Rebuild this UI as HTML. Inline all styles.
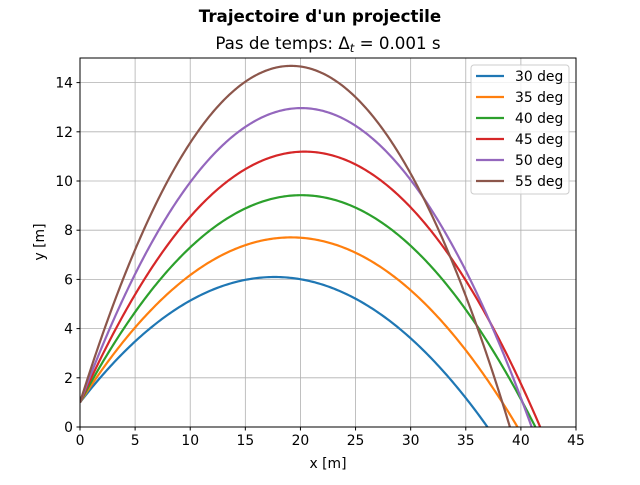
<!DOCTYPE html>
<html><head><meta charset="utf-8"><style>
body{margin:0;background:#fff;}
svg{font-family:"DejaVu Sans","Liberation Sans",sans-serif;}
</style></head><body>
<svg id="chart" width="640" height="480" viewBox="0 0 640 480">
<text x="320" y="22" text-anchor="middle" font-size="16.7" font-weight="bold">Trajectoire d'un projectile</text>
<text x="328" y="49" text-anchor="middle" font-size="16.7">Pas de temps: Δ<tspan font-style="italic" font-size="11.5" dy="3">t</tspan><tspan dy="-3"> = 0.001 s</tspan></text>
<g id="grid"></g>
<defs><clipPath id="clip"><rect x="80" y="58" width="496" height="369"/></clipPath></defs>
<g id="series" clip-path="url(#clip)"></g>
<rect x="80" y="58" width="496" height="369" fill="none" stroke="#000" stroke-width="1"/>
<g id="ticks"></g>
<text x="328" y="468" text-anchor="middle" font-size="13.9">x [m]</text>
<text x="44" y="242" text-anchor="middle" font-size="13.9" transform="rotate(-90 44 242)">y [m]</text>
<g id="legend"></g>
</svg>
<script>
const angles = [30, 35, 40, 45, 50, 55];
const labels = ["30 deg", "35 deg", "40 deg", "45 deg", "50 deg", "55 deg"];
const v0 = 20;
const y0 = 1;
const g = 9.81;
const xTicks = [0, 5, 10, 15, 20, 25, 30, 35, 40, 45];
const yTicks = [0, 2, 4, 6, 8, 10, 12, 14];
const colors = ["#1f77b4","#ff7f0e","#2ca02c","#d62728","#9467bd","#8c564b"];
const NS = "http://www.w3.org/2000/svg";
const X0=80, X1=576, Y0=427, Y1=58;
const sx = v => X0 + (v/45)*(X1-X0);
const sy = v => Y0 - (v/15)*(Y0-Y1);
function mk(tag, attrs, parent){const e=document.createElementNS(NS,tag);for(const k in attrs)e.setAttribute(k,attrs[k]);parent.appendChild(e);return e;}
const grid=document.getElementById('grid'), ticks=document.getElementById('ticks');
xTicks.forEach(t=>{
  const l=mk('line',{x1:sx(t),x2:sx(t),y1:Y1,y2:Y0,stroke:'#b0b0b0','stroke-width':0.8},grid);
  
  
  const tk=mk('line',{x1:sx(t),x2:sx(t),y1:Y0,y2:Y0+3.5,stroke:'#000'},ticks);
  
  
  const tx=mk('text',{x:sx(t),y:Y0+18,'text-anchor':'middle','font-size':13.9},ticks);
  tx.textContent=t;
  
  
});
yTicks.forEach(t=>{
  const l=mk('line',{x1:X0,x2:X1,y1:sy(t),y2:sy(t),stroke:'#b0b0b0','stroke-width':0.8},grid);
  
  
  const tk=mk('line',{x1:X0-3.5,x2:X0,y1:sy(t),y2:sy(t),stroke:'#000'},ticks);
  
  
  const tx=mk('text',{x:X0-7,y:sy(t)+5,'text-anchor':'end','font-size':13.9},ticks);
  tx.textContent=t;
  
  
});
const series=document.getElementById('series');
angles.forEach((a,i)=>{
  const r=a*Math.PI/180, vx=v0*Math.cos(r), vy=v0*Math.sin(r);
  let pts=[], t=0, dt=0.01;
  while(true){const x=vx*t, y=y0+vy*t-0.5*g*t*t; pts.push(sx(x).toFixed(2)+','+sy(y).toFixed(2)); if(y<-0.5)break; t+=dt;}
  const p=mk('polyline',{points:pts.join(' '),fill:'none',stroke:colors[i],'stroke-width':2.2},series);
  
  
});
const lg=document.getElementById('legend');
const box=mk('rect',{x:471,y:65,width:98,height:129,rx:3,fill:'#fff','fill-opacity':0.8,stroke:'#ccc'},lg);


labels.forEach((lab,i)=>{
  const y=76+i*21;
  const l=mk('line',{x1:476,x2:504,y1:y,y2:y,stroke:colors[i],'stroke-width':2.2},lg);
  
  
  const tx=mk('text',{x:515,y:y+5,'font-size':13.9},lg);
  tx.textContent=lab;
  
  
});
</script>
</body></html>
